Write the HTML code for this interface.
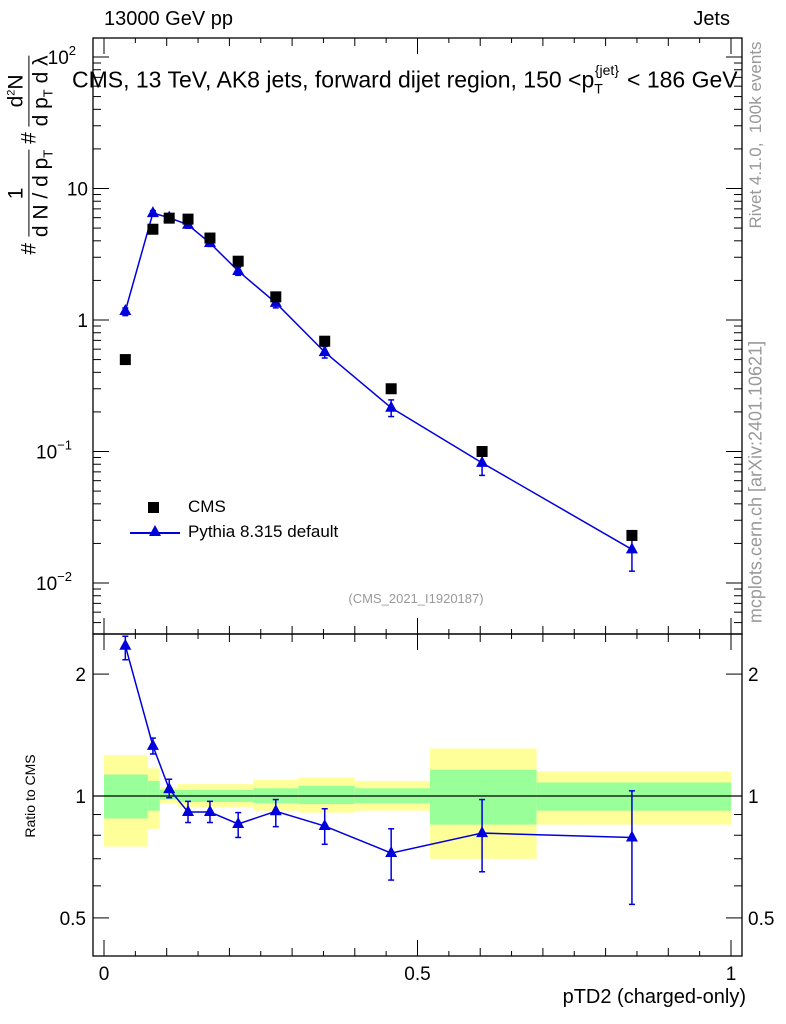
<!DOCTYPE html>
<html><head><meta charset="utf-8"><style>
body{margin:0;background:#fff;}
svg{display:block;font-family:"Liberation Sans",sans-serif;}
</style></head><body>
<svg id="c" width="786" height="1024"></svg>
<script>
const xCenters=[0.034,0.078,0.104,0.134,0.169,0.214,0.274,0.352,0.458,0.603,0.842];
const cmsVals=[0.50,4.9,5.95,5.85,4.2,2.8,1.5,0.69,0.30,0.10,0.023];
const pyVals=[1.17,6.5,6.0,5.3,3.85,2.36,1.35,0.57,0.215,0.082,0.018];
const ratioVals=[2.35,1.33,1.04,0.913,0.913,0.853,0.917,0.843,0.723,0.81,0.79];
const ratioHi=[2.48,1.39,1.10,0.97,0.97,0.91,0.98,0.93,0.83,0.98,1.03];
const ratioLo=[2.17,1.27,0.99,0.86,0.86,0.79,0.84,0.76,0.62,0.65,0.54];
const binEdges=[0,0.07,0.089,0.118,0.238,0.31,0.40,0.52,0.69,1.0];
const yellowHi=[1.26,1.17,1.05,1.07,1.095,1.11,1.09,1.31,1.15];
const yellowLo=[0.75,0.83,0.96,0.94,0.92,0.91,0.92,0.70,0.85];
const greenHi=[1.13,1.09,1.035,1.035,1.045,1.06,1.045,1.16,1.08];
const greenLo=[0.88,0.92,0.98,0.967,0.96,0.955,0.96,0.85,0.92];
const xTicks=[0,0.5,1];
const xTickLabels=["0","0.5","1"];

const NS="http://www.w3.org/2000/svg";
const svg=document.getElementById('c');
const L=93,R=742,T=38,MB=634,RB=956;
function X(v){return 104+v*627;}
function Y(v){return 320-Math.log10(v)*131.5;}
function YR(v){return 796-Math.log10(v)*405;}
function el(tag,attrs,parent){const e=document.createElementNS(NS,tag);for(const k in attrs)e.setAttribute(k,attrs[k]);(parent||svg).appendChild(e);return e;}
function txt(s,x,y,size,attrs){const t=el('text',Object.assign({x:x,y:y,'font-size':size},attrs||{}));t.textContent=s;return t;}

for(let i=0;i<binEdges.length-1;i++){
  const y=el('rect',{x:X(binEdges[i]),y:YR(yellowHi[i]),width:X(binEdges[i+1])-X(binEdges[i]),height:YR(yellowLo[i])-YR(yellowHi[i]),fill:'#ffff99'});
  
  
  const g=el('rect',{x:X(binEdges[i]),y:YR(greenHi[i]),width:X(binEdges[i+1])-X(binEdges[i]),height:YR(greenLo[i])-YR(greenHi[i]),fill:'#99ff99'});
  
  
}
el('line',{x1:L,x2:R,y1:YR(1),y2:YR(1),stroke:'#000','stroke-width':1.3});

const f1=el('rect',{x:L,y:T,width:R-L,height:MB-T,fill:'none',stroke:'#000','stroke-width':1.3});

const f2=el('rect',{x:L,y:MB,width:R-L,height:RB-MB,fill:'none',stroke:'#000','stroke-width':1.3});


for(let k=0;k<=20;k++){const v=k*0.05;const len=(k%10==0)?16:(k%2==0?8:5);
  [[T,1],[MB,-1],[MB,1],[RB,-1]].forEach(([y0,d])=>el('line',{x1:X(v),x2:X(v),y1:y0,y2:y0+d*len,stroke:'#000'}));}
xTicks.forEach((v,i)=>{const t=txt(xTickLabels[i],X(v),980,19,{'text-anchor':'middle'});
  });

for(let d=-3;d<=2;d++){for(let m=1;m<10;m++){const v=m*Math.pow(10,d);const y=Y(v);if(y<T||y>MB)continue;
  const len=m==1?16:8;el('line',{x1:L,x2:L+len,y1:y,y2:y,stroke:'#000'});el('line',{x1:R,x2:R-len,y1:y,y2:y,stroke:'#000'});}}
const yl=[[100,'10','2'],[10,'10',''],[1,'1',''],[0.1,'10','−1'],[0.01,'10','−2']];
yl.forEach(([v,b,e])=>{const t=txt('',e?76:88,Y(v)+7,19,{'text-anchor':'end'});
  
  t.textContent=b; if(e){const s=el('tspan',{dy:-9,'font-size':13},t);s.textContent=e;t.setAttribute('x',e.length>1?72:76);}});
[0.5,0.6,0.7,0.8,0.9,1,2].forEach(v=>{const y=YR(v);const len=(v==1||v==2||v==0.5)?16:8;
  el('line',{x1:L,x2:L+len,y1:y,y2:y,stroke:'#000'});el('line',{x1:R,x2:R-len,y1:y,y2:y,stroke:'#000'});});
[[2,'2'],[1,'1'],[0.5,'0.5']].forEach(([v,s])=>{
  const a=txt(s,86,YR(v)+7,19,{'text-anchor':'end'});
  const b=txt(s,748,YR(v)+7,19,{'text-anchor':'start'});});

el('polyline',{points:xCenters.map((x,i)=>X(x)+','+Y(pyVals[i])).join(' '),fill:'none',stroke:'#0000dd','stroke-width':1.5});
function tri(x,y){return `${x},${y-7} ${x-6},${y+4} ${x+6},${y+4}`;}
xCenters.forEach((x,i)=>{
  const hi=pyVals[i]*ratioHi[i]/ratioVals[i],lo=pyVals[i]*ratioLo[i]/ratioVals[i];
  el('line',{x1:X(x),x2:X(x),y1:Y(hi),y2:Y(lo),stroke:'#0000dd','stroke-width':1.5});
  el('line',{x1:X(x)-3,x2:X(x)+3,y1:Y(hi),y2:Y(hi),stroke:'#0000dd','stroke-width':1.5});
  el('line',{x1:X(x)-3,x2:X(x)+3,y1:Y(lo),y2:Y(lo),stroke:'#0000dd','stroke-width':1.5});
  const p=el('polygon',{points:tri(X(x),Y(pyVals[i])),fill:'#0000dd'});
  
  const s=el('rect',{x:X(x)-5.5,y:Y(cmsVals[i])-5.5,width:11,height:11,fill:'#000'});
  
});
el('polyline',{points:xCenters.map((x,i)=>X(x)+','+YR(ratioVals[i])).join(' '),fill:'none',stroke:'#0000dd','stroke-width':1.5});
xCenters.forEach((x,i)=>{
  el('line',{x1:X(x),x2:X(x),y1:YR(ratioHi[i]),y2:YR(ratioLo[i]),stroke:'#0000dd','stroke-width':1.5});
  el('line',{x1:X(x)-3,x2:X(x)+3,y1:YR(ratioHi[i]),y2:YR(ratioHi[i]),stroke:'#0000dd','stroke-width':1.5});
  el('line',{x1:X(x)-3,x2:X(x)+3,y1:YR(ratioLo[i]),y2:YR(ratioLo[i]),stroke:'#0000dd','stroke-width':1.5});
  const p=el('polygon',{points:tri(X(x),YR(ratioVals[i])),fill:'#0000dd'});
  
});
</script>
<div style="position:absolute;left:0;top:0;width:786px;height:1024px;font-family:'Liberation Sans',sans-serif;pointer-events:none;">
<div style="position:absolute;left:104px;top:8px;font-size:20px;">13000 GeV pp</div>
<div style="position:absolute;right:56px;top:8px;font-size:20px;">Jets</div>
<div style="position:absolute;left:72px;top:66px;font-size:23px;white-space:nowrap;">CMS, 13 TeV, AK8 jets, forward dijet region, 150 &lt;p<sub style="font-size:14px;">T</sub><sup style="font-size:14px;position:relative;left:-8px;top:-4px;">{jet}</sup>&lt; 186 GeV</div>
<div style="position:absolute;left:148px;top:497px;font-size:17px;"><span style="display:inline-block;width:11px;height:11px;background:#000;vertical-align:middle;margin-right:29px;"></span>CMS</div>
<div style="position:absolute;left:130px;top:522px;font-size:17px;white-space:nowrap;"><span style="display:inline-block;width:50px;height:2px;background:#0000dd;vertical-align:middle;margin-right:8px;position:relative;"><span style="position:absolute;left:19px;top:-7px;width:0;height:0;border-left:6px solid transparent;border-right:6px solid transparent;border-bottom:11px solid #0000dd;"></span></span>Pythia 8.315 default</div>
<div style="position:absolute;left:0;width:832px;text-align:center;top:591px;font-size:13px;color:#999;">(CMS_2021_I1920187)</div>
<div style="position:absolute;right:40px;top:986px;font-size:20px;">pTD2 (charged-only)</div>
<div style="position:absolute;left:30px;top:796px;font-size:14px;transform:translate(-50%,-50%) rotate(-90deg);white-space:nowrap;">Ratio to CMS</div>
<div style="position:absolute;left:30px;top:155px;font-size:21px;transform:translate(-50%,-50%) rotate(-90deg);white-space:nowrap;">#&nbsp;<span style="display:inline-block;vertical-align:middle;text-align:center;"><span style="display:block;border-bottom:1.5px solid #000;">1</span><span style="display:block;">d N / d p<sub style="font-size:13px">T</sub></span></span>&nbsp;#&nbsp;<span style="display:inline-block;vertical-align:middle;text-align:center;"><span style="display:block;border-bottom:1.5px solid #000;">d<sup style="font-size:11px">2</sup>N</span><span style="display:block;">d p<sub style="font-size:13px">T</sub> d λ</span></span></div>
<div style="position:absolute;left:756px;top:135px;font-size:17px;color:#999;transform:translate(-50%,-50%) rotate(-90deg);white-space:nowrap;">Rivet 4.1.0,&nbsp; 100k events</div>
<div style="position:absolute;left:756px;top:482px;font-size:18px;color:#999;transform:translate(-50%,-50%) rotate(-90deg);white-space:nowrap;">mcplots.cern.ch [arXiv:2401.10621]</div>
</div>
</body></html>
